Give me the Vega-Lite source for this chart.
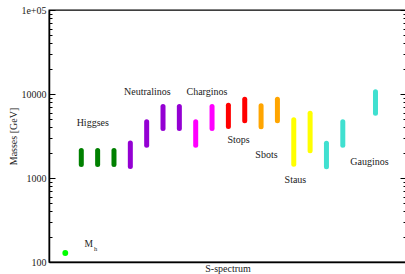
{
  "$schema": "https://vega.github.io/schema/vega-lite/v6.json",
  "width": 357,
  "height": 252,
  "autosize": {"type": "none"},
  "padding": {"left": 49, "top": 10, "right": 0, "bottom": 12},
  "background": "white",
  "config": {
    "view": {"stroke": "black", "strokeWidth": 1.3},
    "font": "Liberation Serif",
    "axis": {
      "grid": false,
      "domainColor": "black",
      "domainWidth": 1.5,
      "tickColor": "black",
      "labelFont": "Liberation Serif",
      "labelFontSize": 10,
      "labelColor": "#222",
      "titleFont": "Liberation Serif",
      "titleFontSize": 10,
      "titleFontWeight": "normal",
      "titleColor": "#222"
    }
  },
  "datasets": {
    "bars": [
      {"idx": 0, "lo": 1450, "hi": 2120, "group": "Higgses"},
      {"idx": 1, "lo": 1450, "hi": 2120, "group": "Higgses"},
      {"idx": 2, "lo": 1450, "hi": 2120, "group": "Higgses"},
      {"idx": 3, "lo": 1370, "hi": 2610, "group": "Neutralinos"},
      {"idx": 4, "lo": 2450, "hi": 4670, "group": "Neutralinos"},
      {"idx": 5, "lo": 3880, "hi": 7100, "group": "Neutralinos"},
      {"idx": 6, "lo": 3880, "hi": 7100, "group": "Neutralinos"},
      {"idx": 7, "lo": 2450, "hi": 4670, "group": "Charginos"},
      {"idx": 8, "lo": 3880, "hi": 7100, "group": "Charginos"},
      {"idx": 9, "lo": 4100, "hi": 7360, "group": "Stops"},
      {"idx": 10, "lo": 4800, "hi": 8670, "group": "Stops"},
      {"idx": 11, "lo": 4070, "hi": 7240, "group": "Sbots"},
      {"idx": 12, "lo": 4800, "hi": 8670, "group": "Sbots"},
      {"idx": 13, "lo": 1460, "hi": 4930, "group": "Staus"},
      {"idx": 14, "lo": 2110, "hi": 5900, "group": "Staus"},
      {"idx": 15, "lo": 1360, "hi": 2600, "group": "Gauginos"},
      {"idx": 16, "lo": 2450, "hi": 4670, "group": "Gauginos"},
      {"idx": 18, "lo": 5900, "hi": 10600, "group": "Gauginos"}
    ],
    "mh": [{"idx": -0.98, "v": 128}],
    "labels": [
      {"idx": 0.7, "v": 4550, "label": "Higgses"},
      {"idx": 4.04, "v": 10570, "label": "Neutralinos"},
      {"idx": 7.69, "v": 10570, "label": "Charginos"},
      {"idx": 9.62, "v": 2830, "label": "Stops"},
      {"idx": 11.33, "v": 1860, "label": "Sbots"},
      {"idx": 13.1, "v": 946, "label": "Staus"},
      {"idx": 17.63, "v": 1540, "label": "Gauginos"}
    ],
    "mlabel": [{"idx": 0.46, "v": 164, "label": "M"}],
    "hlabel": [{"idx": 0.88, "v": 142, "label": "h"}]
  },
  "resolve": {"axis": {"y": "independent"}},
  "layer": [
    {
      "data": {"name": "bars"},
      "mark": {"type": "rule", "strokeWidth": 5, "strokeCap": "round"},
      "encoding": {
        "x": {
          "field": "idx", "type": "quantitative",
          "scale": {"domain": [-1.976, 19.867], "nice": false, "zero": false},
          "axis": {"title": "S-spectrum", "labels": false, "ticks": false, "titlePadding": 1}
        },
        "y": {
          "field": "lo", "type": "quantitative",
          "scale": {"type": "log", "domain": [100, 100000], "nice": false},
          "axis": {
            "title": "Masses [GeV]",
            "titlePadding": 2,
            "values": [100,200,300,400,500,600,700,800,900,1000,2000,3000,4000,5000,6000,7000,8000,9000,10000,20000,30000,40000,50000,60000,70000,80000,90000,100000],
            "labelExpr": "datum.value == 100000 ? '1e+05' : datum.value == 10000 ? '10000' : datum.value == 1000 ? '1000' : datum.value == 100 ? '100' : ''",
            "labelOverlap": false,
            "labelPadding": 9,
            "tickSize": {"condition": {"test": "indexof([100,1000,10000,100000], datum.value) >= 0", "value": -6}, "value": -3}
          }
        },
        "y2": {"field": "hi"},
        "color": {
          "field": "group", "type": "nominal",
          "scale": {
            "domain": ["Higgses", "Neutralinos", "Charginos", "Stops", "Sbots", "Staus", "Gauginos"],
            "range": ["#008000", "#9400D3", "#FF00FF", "#FF0000", "#FFA500", "#FFFF00", "#40E0D0"]
          },
          "legend": null
        }
      }
    },
    {
      "data": {"name": "mh"},
      "mark": {"type": "circle", "size": 34, "color": "#00FF00", "opacity": 1},
      "encoding": {
        "x": {"field": "idx", "type": "quantitative"},
        "y": {"field": "v", "type": "quantitative", "axis": null}
      }
    },
    {
      "data": {"name": "labels"},
      "mark": {"type": "text", "fontSize": 10, "font": "Liberation Serif", "color": "#222", "baseline": "middle", "align": "center"},
      "encoding": {
        "x": {"field": "idx", "type": "quantitative"},
        "y": {
          "field": "v", "type": "quantitative",
          "axis": {
            "orient": "right", "title": null, "labels": false, "domain": false,
            "values": [100,200,300,400,500,600,700,800,900,1000,2000,3000,4000,5000,6000,7000,8000,9000,10000,20000,30000,40000,50000,60000,70000,80000,90000,100000],
            "tickSize": {"condition": {"test": "indexof([100,1000,10000,100000], datum.value) >= 0", "value": -6}, "value": -3}
          }
        },
        "text": {"field": "label"}
      }
    },
    {
      "data": {"name": "mlabel"},
      "mark": {"type": "text", "fontSize": 9.5, "font": "Liberation Serif", "color": "#222", "baseline": "middle", "align": "center"},
      "encoding": {
        "x": {"field": "idx", "type": "quantitative"},
        "y": {"field": "v", "type": "quantitative", "axis": null},
        "text": {"field": "label"}
      }
    },
    {
      "data": {"name": "hlabel"},
      "mark": {"type": "text", "fontSize": 6.5, "font": "Liberation Serif", "color": "#222", "baseline": "middle", "align": "center"},
      "encoding": {
        "x": {"field": "idx", "type": "quantitative"},
        "y": {"field": "v", "type": "quantitative", "axis": null},
        "text": {"field": "label"}
      }
    }
  ]
}
